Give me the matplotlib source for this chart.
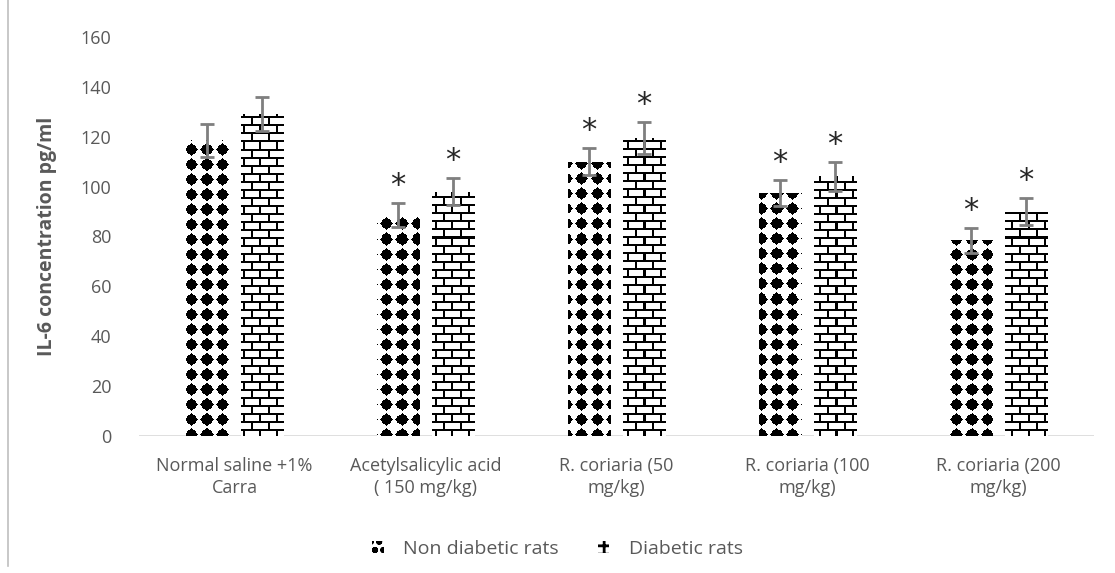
import numpy as np
import matplotlib
matplotlib.use("Agg")
import matplotlib.pyplot as plt
from matplotlib.patches import Patch
from matplotlib.lines import Line2D

categories = ["Normal saline +1%\nCarra", "Acetylsalicylic acid\n( 150 mg/kg)",
              "R. coriaria (50\nmg/kg)", "R. coriaria (100\nmg/kg)", "R. coriaria (200\nmg/kg)"]
series_names = ["Non diabetic rats", "Diabetic rats"]
non_diabetic = [118.5, 88.8, 110.0, 97.5, 78.5]
non_diabetic_err = [6.5, 4.8, 5.5, 5.2, 5.0]
diabetic = [129.3, 98.0, 119.5, 104.2, 90.0]
diabetic_err = [6.8, 5.5, 6.5, 5.8, 5.5]
non_diabetic_star = [False, True, True, True, True]
diabetic_star = [False, True, True, True, True]
yticks = [0, 20, 40, 60, 80, 100, 120, 140, 160]

plt.rcParams["hatch.linewidth"] = 2.0

W, H = 1115, 573
fig = plt.figure(figsize=(W / 100, H / 100), dpi=100)
fig.patch.set_facecolor("white")
ax_l, ax_r, ax_t, ax_b = 139, 1094, 37, 436
ax = fig.add_axes([ax_l / W, 1 - ax_b / H, (ax_r - ax_l) / W, (ax_b - ax_t) / H])
ax.set_xlim(-0.5, len(categories) - 0.5)
ax.set_ylim(0, 160)
for s in ax.spines.values():
    s.set_visible(False)
ax.axhline(0, color="#d9d9d9", lw=1.2, zorder=1)

# textures in pixel space of axes
pw, ph = ax_r - ax_l, ax_b - ax_t
yy, xx = np.mgrid[0:ph, 0:pw]
# dot/diamond pattern
px = (xx % 15) - 7
py = (yy % 15) - 7
dots = ((np.abs(px) + np.abs(py)) <= 6.5) | ((px ** 2 + py ** 2) <= 25)
dots_img = np.where(dots, 0.0, 1.0)
# brick pattern
ry = yy % 16
bx = xx % 16
hline = (yy % 8) < 2
vline = np.where(ry < 8, (bx < 2), ((bx >= 8) & (bx < 10)))
brick = hline | vline
brick_img = np.where(brick, 0.0, 1.0)

x = np.arange(len(categories))
bw = 0.22
off = 0.144
extent = (-0.5, len(categories) - 0.5, 0, 160)

def textured_bars(xpos, vals, img):
    bars = ax.bar(xpos, vals, bw, color="white", edgecolor="none", zorder=2)
    for b in bars:
        im = ax.imshow(img, extent=extent, cmap="gray", vmin=0, vmax=1,
                       interpolation="nearest", aspect="auto", zorder=3, origin="upper")
        im.set_clip_path(b)
    return bars

textured_bars(x - off, non_diabetic, dots_img)
textured_bars(x + off, diabetic, brick_img)
ax.set_xlim(-0.5, len(categories) - 0.5)
ax.set_ylim(0, 160)

ecol = "#7f7f7f"
ax.errorbar(x - off, non_diabetic, yerr=non_diabetic_err, fmt="none", ecolor=ecol,
            elinewidth=2, capsize=5, capthick=2, zorder=4)
ax.errorbar(x + off, diabetic, yerr=diabetic_err, fmt="none", ecolor=ecol,
            elinewidth=2, capsize=5, capthick=2, zorder=4)

for i in range(len(categories)):
    if non_diabetic_star[i]:
        ax.text(x[i] - off, non_diabetic[i] + non_diabetic_err[i] + 1.0, "*", ha="center",
                va="bottom", fontsize=22, color="#262626", zorder=5)
    if diabetic_star[i]:
        ax.text(x[i] + off, diabetic[i] + diabetic_err[i] + 1.0, "*", ha="center",
                va="bottom", fontsize=22, color="#262626", zorder=5)

tc = "#595959"
ax.set_yticks(yticks)
ax.set_yticklabels([str(v) for v in yticks], fontsize=13, color=tc, family="Open Sans")
ax.set_xticks(x)
ax.set_xticklabels(categories, fontsize=13, color=tc, family="Open Sans", linespacing=1.3)
ax.tick_params(axis="y", length=0, pad=20)
ax.tick_params(axis="x", length=0, pad=15)
ax.set_ylabel("IL-6 concentration pg/ml", fontsize=14, color=tc, family="Open Sans",
              fontweight="bold", labelpad=17)

handles = [Patch(facecolor="white", edgecolor="black", lw=0, hatch="oo"),
           Patch(facecolor="white", edgecolor="black", lw=0, hatch="++")]
leg = fig.legend(handles, series_names, loc="center", bbox_to_anchor=(0.5, 1 - 549 / H),
                 ncol=2, frameon=False, handlelength=0.6, handleheight=0.6,
                 columnspacing=2.0, handletextpad=1.0,
                 prop={"family": "Open Sans", "size": 14})
for t in leg.get_texts():
    t.set_color(tc)

fig.add_artist(Line2D([8 / W, 8 / W], [1 - 566 / H, 1.0], color="#bfbfbf", lw=1.2))

fig.savefig("out.png", dpi=100, facecolor="white")
